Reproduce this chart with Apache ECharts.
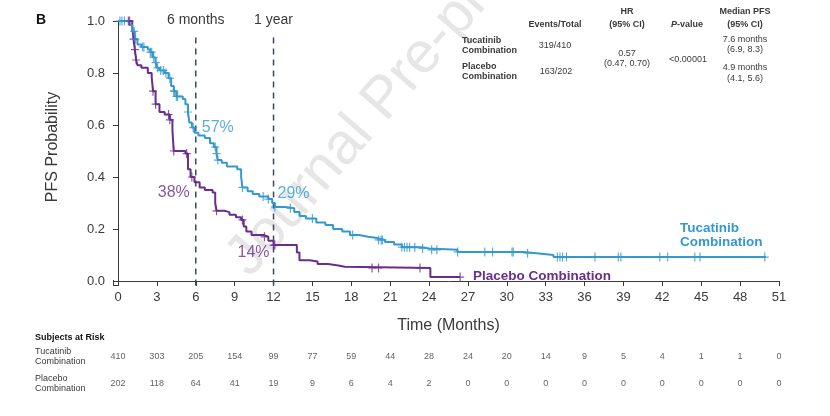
<!DOCTYPE html>
<html><head><meta charset="utf-8">
<script src="https://cdn.jsdelivr.net/npm/echarts@6/dist/echarts.min.js"></script>
<style>html,body{margin:0;padding:0;background:#fff}#c{width:830px;height:416px}</style>
</head><body><div id="c"></div>
<script>
// ---- data ----
const xTicks = [0,3,6,9,12,15,18,21,24,27,30,33,36,39,42,45,48,51];
const yTicks = [0,0.2,0.4,0.6,0.8,1.0];

// Kaplan-Meier step points [months, PFS probability]
const tucatinib = [
  [0,1.0],[0.9,0.985],[1.1,0.96],[1.3,0.93],[1.5,0.91],[1.8,0.90],[2.3,0.89],[2.5,0.88],
  [2.7,0.86],[2.9,0.84],[3.0,0.82],[3.2,0.81],[3.6,0.80],[3.9,0.78],[4.1,0.75],[4.3,0.73],
  [4.5,0.71],[5.0,0.70],[5.2,0.68],[5.4,0.65],[5.5,0.61],[5.7,0.59],[5.9,0.57],[6.2,0.56],
  [6.7,0.55],[7.1,0.53],[7.4,0.515],[7.6,0.49],[7.7,0.465],[8.0,0.455],[8.4,0.44],[9.2,0.43],
  [9.5,0.40],[9.6,0.36],[10.0,0.345],[10.4,0.335],[10.9,0.325],[11.6,0.315],[11.9,0.30],
  [12.1,0.285],[12.9,0.28],[13.6,0.265],[14.0,0.25],[14.5,0.24],[15.3,0.225],[16.0,0.215],
  [16.6,0.20],[17.3,0.19],[17.9,0.177],[18.6,0.17],[19.3,0.165],[20.0,0.158],[20.6,0.15],
  [21.3,0.14],[21.9,0.13],[23.5,0.125],[24.0,0.12],[26.2,0.112],[31.3,0.107],[32.3,0.10],
  [33.6,0.092],[50.0,0.092]
];
const placebo = [
  [0,1.0],[1.1,0.98],[1.2,0.93],[1.3,0.89],[1.4,0.85],[1.5,0.83],[1.8,0.82],[2.3,0.80],
  [2.6,0.785],[2.7,0.73],[2.9,0.68],[3.2,0.65],[3.6,0.64],[4.0,0.62],[4.2,0.58],[4.3,0.50],
  [5.2,0.49],[5.4,0.43],[5.6,0.40],[5.9,0.38],[6.3,0.36],[6.7,0.35],[7.3,0.34],[7.5,0.30],
  [7.6,0.27],[8.2,0.265],[8.6,0.255],[9.1,0.245],[9.5,0.235],[9.7,0.21],[9.9,0.19],
  [10.3,0.177],[11.2,0.17],[11.6,0.155],[12.0,0.138],[13.8,0.11],[14.0,0.08],[14.8,0.075],
  [15.4,0.065],[16.2,0.06],[17.0,0.055],[17.5,0.05],[24.1,0.015],[26.4,0.015]
];
// censoring times (months)
const tucatinibCensored = [0.15,0.3,0.5,1.25,1.35,1.9,2.0,2.5,2.6,2.75,2.9,3.05,3.3,3.5,3.7,4.0,
  4.3,4.35,4.5,4.6,5.4,5.8,7.5,7.6,7.7,9.6,11.2,11.6,12.1,13.3,15.0,18.1,20.1,20.3,20.4,
  21.9,22.1,22.3,22.5,22.9,23.5,24.2,24.6,26.2,28.3,28.9,30.4,30.5,31.6,33.9,34.1,34.3,
  34.6,36.8,38.6,38.8,41.8,42.4,44.5,44.9,49.9];
const placeboCensored = [0.8,0.9,1.2,1.3,1.4,2.7,2.9,3.9,4.0,4.3,5.3,5.7,7.6,9.6,11.3,12.0,12.1,
  19.6,20.1,23.3,26.4];

// landmark estimates (%)
const landmarkMonths = [6, 12];
const landmarkNames = ['6 months', '1 year'];
const tucatinibLandmark = [57, 29];
const placeboLandmark = [38, 14];

// subjects at risk
const riskTimes = xTicks;
const tucatinibRisk = [410,303,205,154,99,77,59,44,28,24,20,14,9,5,4,1,1,0];
const placeboRisk = [202,118,64,41,19,9,6,4,2,0,0,0,0,0,0,0,0,0];

// ---- styling ----
const BLUE = '#3399d0', PURPLE = '#6a2d8c', INK = '#3a3a3a', DASH = '#3b4a5e';
const FONT = '"Liberation Sans", Arial, sans-serif';

function sAt(curve, t) {
  let s = curve[0][1];
  for (const p of curve) { if (p[0] <= t) s = p[1]; else break; }
  return s;
}
const cross = 'path://M3.4,0h1.2v9h-1.2z M0,3.9h8v1.2h-8z';

const chart = echarts.init(document.getElementById('c'), null, {renderer: 'canvas'});

function txt(x, y, text, opt) {
  return Object.assign({type: 'text', x: x, y: y, z: 10, style: Object.assign({
    text: text, fill: INK, font: '9px ' + FONT, align: 'left', verticalAlign: 'middle'
  }, opt || {})});
}
const boldS = {font: 'bold 9px ' + FONT};
const ctr = {align: 'center'};

const graphics = [
  {type: 'text', x: 238, y: 268, rotation: 0.855, z: -5, silent: true,
   style: {text: 'Journal Pre-proof', font: '58px ' + FONT, fill: '#e6e6e6', align: 'left', verticalAlign: 'middle'}},
  {type: 'line', z: 1, silent: true, shape: {x1: 113.5, y1: 280, x2: 113.5, y2: 285.5}, style: {stroke: INK, lineWidth: 1}},
  {type: 'line', z: 1, silent: true, shape: {x1: 113, y1: 285.5, x2: 118.5, y2: 285.5}, style: {stroke: INK, lineWidth: 1}},
  txt(36, 20, 'B', {font: 'bold 14px ' + FONT, fill: '#111'}),
  // header table
  txt(627, 12, 'HR', Object.assign({}, boldS, ctr)),
  txt(745, 12, 'Median PFS', Object.assign({}, boldS, ctr)),
  txt(555, 25, 'Events/Total', Object.assign({}, boldS, ctr)),
  txt(627, 25, '(95% CI)', Object.assign({}, boldS, ctr)),
  {type: 'text', x: 687, y: 25, z: 10, style: {rich: {i: {font: 'italic bold 9px ' + FONT, fill: INK}, n: {font: 'bold 9px ' + FONT, fill: INK}},
    text: '{i|P}{n|-value}', align: 'center', verticalAlign: 'middle'}},
  txt(745, 25, '(95% CI)', Object.assign({}, boldS, ctr)),
  txt(462, 41, 'Tucatinib', boldS),
  txt(462, 51, 'Combination', boldS),
  txt(555, 46, '319/410', ctr),
  txt(745, 40, '7.6 months', ctr),
  txt(745, 50, '(6.9, 8.3)', ctr),
  txt(627, 54, '0.57', ctr),
  txt(627, 64, '(0.47, 0.70)', ctr),
  txt(688, 60, '<0.00001', ctr),
  txt(462, 67, 'Placebo', boldS),
  txt(462, 77, 'Combination', boldS),
  txt(556, 72, '163/202', ctr),
  txt(745, 68, '4.9 months', ctr),
  txt(745, 79, '(4.1, 5.6)', ctr),
  // series names
  txt(680, 228, 'Tucatinib', {font: 'bold 13.5px ' + FONT, fill: BLUE}),
  txt(680, 242, 'Combination', {font: 'bold 13.5px ' + FONT, fill: BLUE}),
  txt(473, 276, 'Placebo Combination', {font: 'bold 13.5px ' + FONT, fill: PURPLE}),
  // risk table labels
  txt(35, 338, 'Subjects at Risk', {font: 'bold 9px ' + FONT, fill: '#111'}),
  txt(35, 352, 'Tucatinib'),
  txt(35, 362, 'Combination'),
  txt(35, 379, 'Placebo'),
  txt(35, 389, 'Combination')
];

function landmarkLine(i) {
  return {type: 'line', clip: false, silent: true, z: 2, showSymbol: true, symbolSize: 0, symbol: 'circle',
    lineStyle: {color: DASH, width: 1.5, type: [6, 5]}, itemStyle: {color: DASH},
    data: [
      [landmarkMonths[i], -0.017],
      {value: [landmarkMonths[i], 0.955],
       label: {show: true, position: 'top', distance: 6, formatter: landmarkNames[i],
               color: INK, fontSize: 14, fontFamily: FONT}}
    ]};
}

const lblBase = {show: true, fontSize: 16, fontFamily: FONT};

const option = {
  animation: false,
  backgroundColor: '#fff',
  textStyle: {fontFamily: FONT},
  grid: [
    {left: 118, right: 51, top: 21, bottom: 135},
    {left: 118, right: 51, top: 357, bottom: 32}
  ],
  xAxis: [
    {type: 'value', gridIndex: 0, min: 0, max: 51, interval: 3, offset: 4,
     name: 'Time (Months)', nameLocation: 'middle', nameGap: 33,
     nameTextStyle: {fontSize: 16, color: INK, fontFamily: FONT},
     axisLine: {lineStyle: {color: INK, width: 1}},
     axisTick: {show: true, length: 5, lineStyle: {color: INK}},
     axisLabel: {fontSize: 13, color: INK, margin: 6, fontFamily: FONT},
     splitLine: {show: false}},
    {type: 'value', gridIndex: 1, min: 0, max: 51, interval: 3, show: false}
  ],
  yAxis: [
    {type: 'value', gridIndex: 0, min: 0, max: 1, interval: 0.2, offset: 5,
     name: 'PFS Probability', nameLocation: 'middle', nameGap: 52, nameRotate: 90,
     nameTextStyle: {fontSize: 16, color: INK, fontFamily: FONT, padding: [0, 0, 0, 8]},
     axisLine: {show: true, lineStyle: {color: INK, width: 1}},
     axisTick: {show: true, length: 5, lineStyle: {color: INK}},
     axisLabel: {fontSize: 13, color: INK, margin: 8, fontFamily: FONT, formatter: v => v.toFixed(1)},
     splitLine: {show: false}},
    {type: 'value', gridIndex: 1, min: 0, max: 1, show: false}
  ],
  graphic: graphics,
  series: [
    landmarkLine(0),
    landmarkLine(1),
    {type: 'line', name: 'Placebo Combination', data: placebo, step: 'end', showSymbol: false,
     lineStyle: {color: PURPLE, width: 2}, itemStyle: {color: PURPLE}, z: 3},
    {type: 'line', name: 'Tucatinib Combination', data: tucatinib, step: 'end', showSymbol: false,
     lineStyle: {color: BLUE, width: 2}, itemStyle: {color: BLUE}, z: 4},
    {type: 'scatter', data: placeboCensored.map(t => [t, sAt(placebo, t)]), symbol: cross,
     symbolSize: [8, 9], itemStyle: {color: PURPLE}, z: 5, silent: true},
    {type: 'scatter', data: tucatinibCensored.map(t => [t, sAt(tucatinib, t)]), symbol: cross,
     symbolSize: [8, 9], itemStyle: {color: BLUE}, z: 6, silent: true},
    // landmark percent labels
    {type: 'scatter', symbolSize: 0, silent: true, z: 8,
     data: [
       {value: [landmarkMonths[0], tucatinibLandmark[0] / 100],
        label: Object.assign({}, lblBase, {color: BLUE, position: 'right', distance: 6, offset: [0, -5], formatter: tucatinibLandmark[0] + '%'})},
       {value: [landmarkMonths[1], tucatinibLandmark[1] / 100],
        label: Object.assign({}, lblBase, {color: BLUE, position: 'right', distance: 4, offset: [0, -12], formatter: tucatinibLandmark[1] + '%'})},
       {value: [landmarkMonths[0], placeboLandmark[0] / 100],
        label: Object.assign({}, lblBase, {color: PURPLE, position: 'left', distance: 6, offset: [0, 10], formatter: placeboLandmark[0] + '%'})},
       {value: [landmarkMonths[1], placeboLandmark[1] / 100],
        label: Object.assign({}, lblBase, {color: PURPLE, position: 'left', distance: 4, offset: [0, 8], formatter: placeboLandmark[1] + '%'})}
     ]},
    // risk table
    {type: 'scatter', xAxisIndex: 1, yAxisIndex: 1, symbolSize: 0, silent: true,
     data: riskTimes.map((t, i) => [t, 1, tucatinibRisk[i]]),
     label: {show: true, position: 'inside', formatter: p => String(p.value[2]), color: INK, fontSize: 9, fontFamily: FONT}},
    {type: 'scatter', xAxisIndex: 1, yAxisIndex: 1, symbolSize: 0, silent: true,
     data: riskTimes.map((t, i) => [t, 0, placeboRisk[i]]),
     label: {show: true, position: 'inside', formatter: p => String(p.value[2]), color: INK, fontSize: 9, fontFamily: FONT}}
  ]
};
chart.setOption(option);
</script>
</body></html>
